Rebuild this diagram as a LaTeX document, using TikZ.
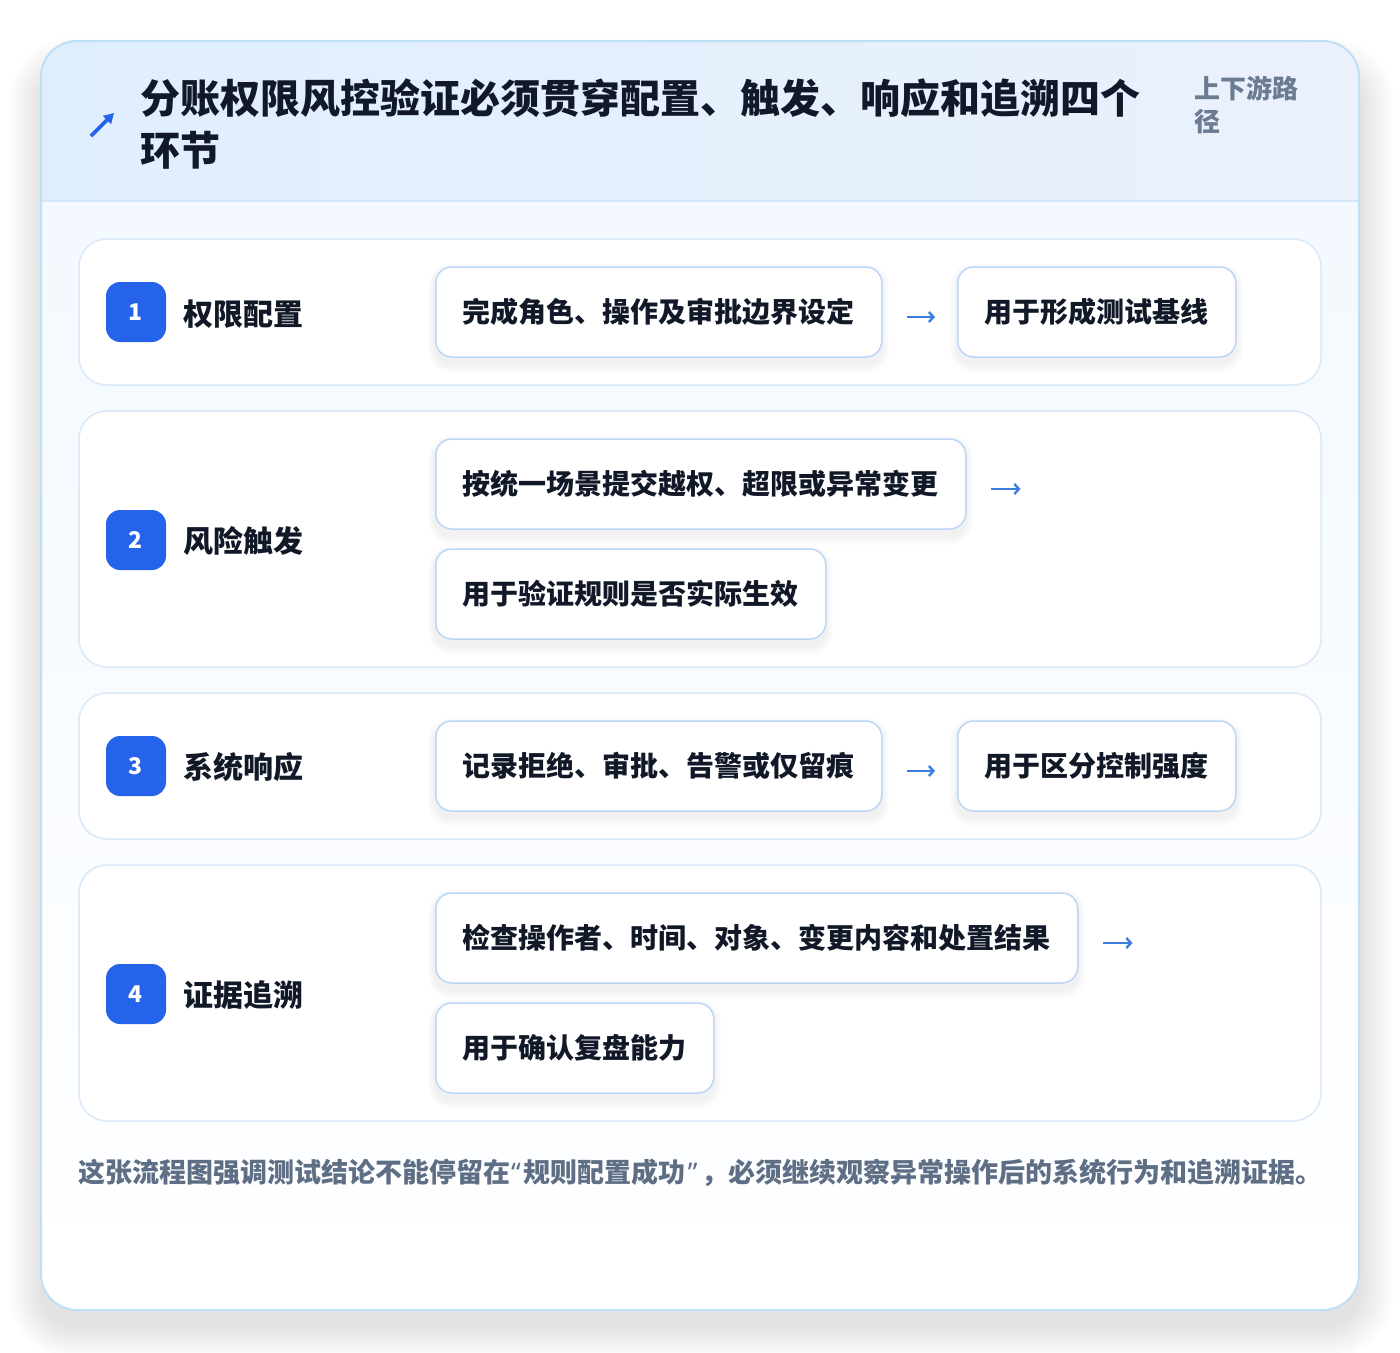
\documentclass[tikz,border=0pt]{standalone}
\usepackage{fontspec}
\setmainfont{Noto Sans CJK SC}
\newfontfamily\latinf{Noto Sans}
\usetikzlibrary{arrows.meta}
\definecolor{cardline}{HTML}{BEE0F5}
\definecolor{headL}{HTML}{DFEEFD}
\definecolor{headR}{HTML}{EBF1FD}
\definecolor{divline}{HTML}{D3E6F8}
\definecolor{bodytop}{HTML}{F1F8FE}
\definecolor{rowline}{HTML}{D9E8FA}
\definecolor{boxline}{HTML}{BCD6F5}
\definecolor{badgeblue}{HTML}{2563EB}
\definecolor{arrowblue}{HTML}{3B7FE0}
\definecolor{ink}{HTML}{111827}
\definecolor{slate}{HTML}{6B7B92}
\definecolor{foot}{HTML}{5E6E85}
\pgfdeclarelayer{back}
\pgfdeclarelayer{shadow}
\pgfsetlayers{back,shadow,main}
\begin{document}
\begin{tikzpicture}[x=1pt,y=-1pt,
  rowpanel/.style={draw=rowline,line width=1.5pt,fill=white,rounded corners=28pt},
  stepbox/.style={draw=boxline,line width=1.5pt,fill=white,rounded corners=16pt,
    minimum height=90pt,inner xsep=27pt,inner ysep=0pt,anchor=west,text=ink,
    font=\bfseries\fontsize{28pt}{34pt}\selectfont},
  badge/.style={fill=badgeblue,rounded corners=14pt,minimum size=60pt,inner sep=0pt,
    text=white,font=\bfseries\fontsize{23pt}{28pt}\selectfont},
  rowlabel/.style={anchor=west,inner sep=0pt,text=ink,font=\bfseries\fontsize{30pt}{36pt}\selectfont},
  flowarr/.style={draw=arrowblue,line width=2.6pt,-{Straight Barb[length=4.5pt,width=10pt,line width=2.4pt]}},
]
\useasboundingbox (0,0) rectangle (1400,1352);

\begin{pgfonlayer}{back}
\fill[white] (0,0) rectangle (1400,1352);
% card shadow
\foreach \i in {1,...,14}{
  \fill[black,opacity=0.008,rounded corners={36+2*\i}]
    ({41-2.3*\i},{70-2.3*\i}) rectangle ({1359+2.5*\i},{1326+2.3*\i});
}
% card body
\path[rounded corners=36pt,top color=bodytop,bottom color=white]
  (41,41) rectangle (1359,1310);
\begin{scope}
  \clip[rounded corners=36pt] (41,41) rectangle (1359,1310);
  \shade[left color=headL,right color=headR] (41,41) rectangle (1359,201);
\end{scope}
\draw[divline,line width=1.5pt] (42,201) -- (1358,201);
\draw[cardline,line width=2pt,rounded corners=36pt] (41,41) rectangle (1359,1310);
% row panels
\draw[rowpanel] (79,239) rectangle (1321,385);
\draw[rowpanel] (79,411) rectangle (1321,667);
\draw[rowpanel] (79,693) rectangle (1321,839);
\draw[rowpanel] (79,865) rectangle (1321,1121);
\end{pgfonlayer}

% header
\coordinate (icS) at (91,136);
\coordinate (icE) at (114,113);
\draw[badgeblue,line width=3.6pt,-{Triangle[length=10pt,width=11pt]}] (icS) -- (icE);
\node[anchor=base west,inner sep=0pt,text=ink,font=\bfseries\fontsize{40pt}{48pt}\selectfont]
  (title1) at (140,113) {分账权限风控验证必须贯穿配置、触发、响应和追溯四个};
\node[anchor=base west,inner sep=0pt,text=ink,font=\bfseries\fontsize{40pt}{48pt}\selectfont]
  (title2) at (140,165) {环节};
\node[anchor=base west,inner sep=0pt,text=slate,font=\bfseries\fontsize{26pt}{32pt}\selectfont]
  (tag1) at (1194,98) {上下游路};
\node[anchor=base west,inner sep=0pt,text=slate,font=\bfseries\fontsize{26pt}{32pt}\selectfont]
  (tag2) at (1194,131) {径};

% row 1
\node[badge] (b1) at (136,312) {1};
\node[rowlabel] (l1) at (183,314) {权限配置};
\node[stepbox] (r1a) at (435,312) {完成角色、操作及审批边界设定};
\node[stepbox] (r1b) at (957,312) {用于形成测试基线};
\draw[flowarr] ([xshift=24pt,yshift=-5pt]r1a.east) -- ([xshift=-22pt,yshift=-5pt]r1b.west);

% row 2
\node[badge] (b2) at (136,540) {2};
\node[rowlabel] (l2) at (183,541) {风险触发};
\node[stepbox] (r2a) at (435,484) {按统一场景提交越权、超限或异常变更};
\node[stepbox] (r2b) at (435,594) {用于验证规则是否实际生效};
\coordinate (r2end) at ([xshift=54pt,yshift=-5pt]r2a.east);
\draw[flowarr] ([xshift=24pt,yshift=-5pt]r2a.east) -- (r2end);

% row 3
\node[badge] (b3) at (136,766) {3};
\node[rowlabel] (l3) at (183,767) {系统响应};
\node[stepbox] (r3a) at (435,766) {记录拒绝、审批、告警或仅留痕};
\node[stepbox] (r3b) at (957,766) {用于区分控制强度};
\draw[flowarr] ([xshift=24pt,yshift=-5pt]r3a.east) -- ([xshift=-22pt,yshift=-5pt]r3b.west);

% row 4
\node[badge] (b4) at (136,994) {4};
\node[rowlabel] (l4) at (183,995) {证据追溯};
\node[stepbox] (r4a) at (435,938) {检查操作者、时间、对象、变更内容和处置结果};
\node[stepbox] (r4b) at (435,1048) {用于确认复盘能力};
\coordinate (r4end) at ([xshift=54pt,yshift=-5pt]r4a.east);
\draw[flowarr] ([xshift=24pt,yshift=-5pt]r4a.east) -- (r4end);

% footer
\node[anchor=west,inner sep=0pt,text=foot,font=\bfseries\fontsize{27pt}{32pt}\selectfont]
  (note) at (78,1173) {这张流程图强调测试结论不能停留在\kern1pt{\latinf\bfseries “}\kern3pt 规则配置成功\kern2pt{\latinf\bfseries ”}\kern4pt，必须继续观察异常操作后的系统行为和追溯证据。};

% box shadows
\begin{pgfonlayer}{shadow}
\foreach \n in {r1a,r1b,r2a,r2b,r3a,r3b,r4a,r4b}{
  \foreach \i in {1,...,7}{
    \fill[black,opacity=0.009,rounded corners={16+\i}]
      ([xshift={-\i*1pt},yshift={-6pt-\i*1.3pt}]\n.south west) rectangle
      ([xshift={\i*1pt},yshift={-4pt+\i*1pt}]\n.north east);
  }
}
\end{pgfonlayer}
\end{tikzpicture}
\end{document}
